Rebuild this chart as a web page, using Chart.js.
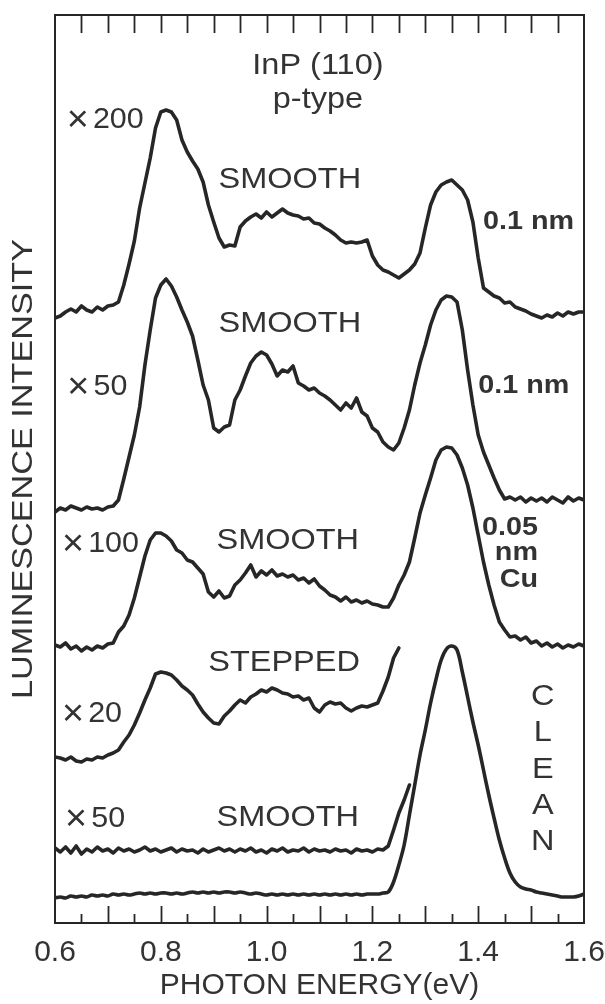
<!DOCTYPE html>
<html>
<head>
<meta charset="utf-8">
<script src="https://cdn.jsdelivr.net/npm/chart.js@4.4.1/dist/chart.umd.min.js"></script>
<style>
html,body{margin:0;padding:0;background:#ffffff;}
canvas{display:block;}
</style>
</head>
<body>
<canvas id="c" width="605" height="1004"></canvas>
<script>
// Photon energy grid (eV)
const energy = [
 0.60,0.61,0.62,0.63,0.64,0.65,0.66,0.67,0.68,0.69,
 0.70,0.71,0.72,0.73,0.74,0.75,0.76,0.77,0.78,0.79,
 0.80,0.81,0.82,0.83,0.84,0.85,0.86,0.87,0.88,0.89,
 0.90,0.91,0.92,0.93,0.94,0.95,0.96,0.97,0.98,0.99,
 1.00,1.01,1.02,1.03,1.04,1.05,1.06,1.07,1.08,1.09,
 1.10,1.11,1.12,1.13,1.14,1.15,1.16,1.17,1.18,1.19,
 1.20,1.21,1.22,1.23,1.24,1.25,1.26,1.27,1.28,1.29,
 1.30,1.31,1.32,1.33,1.34,1.35,1.36,1.37,1.38,1.39,
 1.40,1.41,1.42,1.43,1.44,1.45,1.46,1.47,1.48,1.49,
 1.50,1.51,1.52,1.53,1.54,1.55,1.56,1.57,1.58,1.59,
 1.60
];

// Luminescence intensity (arbitrary units, curves offset vertically as in the figure)
const smoothX200 = [
 60.5,60.7,61.1,61.4,61.1,61.7,61.3,61.1,61.6,61.3,
 61.7,61.8,62.1,63.8,65.9,68.2,71.5,74.0,76.5,79.5,
 81.1,81.3,81.1,80.3,78.3,77.1,76.2,75.4,74.1,71.8,
 70.1,68.5,67.6,67.8,67.7,69.6,70.2,70.6,70.9,70.5,
 71.1,70.6,71.0,71.4,71.0,70.8,70.7,70.4,70.5,70.0,
 69.9,69.5,69.2,68.8,68.3,68.0,68.1,68.0,68.1,68.3,
 66.7,65.8,65.3,65.1,64.8,64.5,64.9,65.3,65.9,67.0,
 69.5,71.8,73.1,73.8,74.1,74.3,73.8,73.3,72.3,70.1,
 66.5,63.5,63.1,62.7,62.5,62.0,62.1,61.6,61.4,61.2,
 60.9,60.7,60.5,60.8,60.6,61.0,60.7,61.1,60.9,61.1,
 61.1
];
const smoothX50 = [
 41.1,41.5,41.3,41.7,41.5,41.3,41.6,41.4,41.5,41.3,
 41.6,41.7,42.3,44.4,46.6,48.8,51.6,55.8,59.3,62.5,
 63.8,64.4,63.7,62.6,61.3,60.1,58.7,56.3,53.8,52.3,
 49.5,49.1,49.6,49.8,52.3,53.3,54.7,56.0,56.7,57.1,
 56.8,55.9,54.7,55.3,55.1,55.7,54.0,53.7,53.3,53.5,
 53.0,52.7,52.3,51.8,51.3,52.0,51.5,52.5,51.1,50.7,
 49.5,49.1,48.1,47.6,47.3,48.0,49.5,51.3,53.8,56.0,
 57.8,59.8,61.3,62.3,62.7,62.6,62.1,59.3,55.3,51.8,
 48.8,47.1,45.8,44.5,43.3,42.4,42.6,42.3,42.6,42.1,
 42.5,42.2,42.5,42.1,42.6,42.3,42.0,42.6,42.2,42.5,
 42.3
];
const smoothX100Cu = [
 27.8,27.6,28.0,27.4,27.7,27.2,27.6,27.3,27.7,27.5,
 27.9,28.0,29.1,29.7,30.8,32.5,34.6,36.7,38.3,39.0,
 39.0,38.7,38.2,37.3,37.0,36.3,36.1,35.5,34.9,33.1,
 32.6,33.2,32.5,32.7,33.8,34.3,35.0,35.8,34.6,35.2,
 34.8,35.3,34.7,34.9,34.6,34.8,34.3,34.5,34.0,34.4,
 33.7,33.3,32.8,32.6,32.2,32.6,32.1,32.3,32.0,32.2,
 31.9,31.8,31.6,31.6,32.5,33.8,34.8,36.1,38.5,41.0,
 42.8,44.5,46.3,47.3,47.6,47.5,46.8,45.5,43.8,41.5,
 38.8,36.1,33.8,31.8,30.1,29.3,28.6,28.7,28.3,28.6,
 28.0,28.2,27.7,28.0,27.6,27.9,27.5,27.8,27.6,27.9,
 27.7
];
const steppedX20 = [
 16.6,16.5,16.3,16.6,16.2,16.1,16.4,16.3,16.6,16.5,
 16.8,17.0,17.3,18.1,18.8,19.8,21.0,22.3,23.5,24.9,
 25.1,25.0,24.8,24.3,23.7,23.3,22.8,21.9,21.1,20.5,
 20.0,19.9,20.7,21.2,21.8,22.3,22.0,22.6,22.9,23.3,
 23.1,23.5,23.3,23.0,22.9,22.6,22.7,22.3,22.5,21.5,
 21.1,21.8,22.1,21.9,22.0,21.5,21.2,21.5,21.7,21.6,
 21.8,22.0,23.2,24.6,26.5,27.5
];
const cleanSmoothX50 = [
 7.5,7.1,7.6,7.0,7.7,6.9,7.4,7.1,7.6,7.2,
 7.4,7.0,7.5,7.2,7.4,7.1,7.3,7.6,7.2,7.4,
 7.1,7.3,7.5,7.1,7.4,7.2,7.3,7.0,7.4,7.1,
 7.3,7.5,7.2,7.4,7.1,7.4,7.2,7.5,7.1,7.3,
 7.0,7.4,7.2,7.5,7.1,7.3,7.2,7.5,7.1,7.4,
 7.2,7.3,7.1,7.4,7.2,7.3,7.0,7.4,7.2,7.3,
 7.1,7.4,7.3,7.7,9.3,11.0,12.3,13.8
];
const cleanX1 = [
 2.5,2.6,2.5,2.7,2.6,2.7,2.6,2.8,2.7,2.8,
 2.7,2.9,2.8,2.9,2.8,2.9,3.0,2.9,3.0,2.9,
 3.0,3.0,2.9,3.0,2.9,3.0,3.1,3.0,3.1,3.0,
 3.1,3.0,3.1,3.1,3.0,3.1,3.0,2.9,3.0,2.9,
 2.8,2.9,2.8,2.9,2.8,2.9,2.8,2.9,2.8,2.9,
 2.8,2.9,2.8,2.9,2.8,2.9,2.8,2.9,2.8,2.9,
 2.9,2.9,3.0,3.1,4.1,5.8,7.8,10.8,13.8,16.8,
 19.3,22.0,24.3,26.3,27.4,27.7,27.3,25.1,22.6,20.1,
 17.8,15.3,12.8,10.5,8.3,6.5,5.0,4.1,3.6,3.4,
 3.3,3.1,3.0,2.9,2.8,2.7,2.6,2.6,2.6,2.7,
 2.9
];

const xTickValues = [0.6, 0.8, 1.0, 1.2, 1.4, 1.6];
const xTickLabels = ['0.6', '0.8', '1.0', '1.2', '1.4', '1.6'];

// Text annotations placed in data coordinates
const annotations = [
  {text:'InP (110)', e:1.097, v:85.7, align:'center'},
  {text:'p-type',    e:1.097, v:82.3, align:'center'},
  {text:'× 200',     e:0.622, v:80.3, align:'left'},
  {text:'SMOOTH',    e:1.044, v:74.3, align:'center'},
  {text:'0.1 nm',    e:1.409, v:70.1, align:'left', bold:true},
  {text:'SMOOTH',    e:1.044, v:59.9, align:'center'},
  {text:'× 50',      e:0.623, v:53.6, align:'left'},
  {text:'0.1 nm',    e:1.400, v:53.7, align:'left', bold:true},
  {text:'× 100',     e:0.613, v:37.9, align:'left'},
  {text:'SMOOTH',    e:1.040, v:38.2, align:'center'},
  {text:'0.05',      e:1.513, v:39.5, align:'right', bold:true},
  {text:'nm',        e:1.513, v:37.0, align:'right', bold:true},
  {text:'Cu',        e:1.513, v:34.3, align:'right', bold:true},
  {text:'STEPPED',   e:1.033, v:26.0, align:'center'},
  {text:'× 20',      e:0.613, v:20.9, align:'left'},
  {text:'C',         e:1.522, v:22.6, align:'center'},
  {text:'L',         e:1.522, v:19.0, align:'center'},
  {text:'E',         e:1.522, v:15.3, align:'center'},
  {text:'A',         e:1.522, v:11.7, align:'center'},
  {text:'N',         e:1.522, v:8.1,  align:'center'},
  {text:'× 50',      e:0.619, v:10.4, align:'left'},
  {text:'SMOOTH',    e:1.040, v:10.5, align:'center'}
];

const INK = '#262626';
const TEXT = '#333333';
const FONT = '"Liberation Sans", Arial, Helvetica, sans-serif';

function toPoints(ys) {
  return ys.map((y, i) => ({x: energy[i], y: y}));
}

function drawText(ctx, text, px, py, o) {
  ctx.save();
  ctx.fillStyle = TEXT;
  ctx.textBaseline = 'middle';
  ctx.translate(px, py);
  if (o.rotate) ctx.rotate(o.rotate);
  ctx.scale(o.stretch || 1, 1);
  if (text.startsWith('× ')) {
    // larger multiplication sign, then the factor
    ctx.textAlign = 'left';
    ctx.font = '300 ' + Math.round(o.size * 1.25) + 'px ' + FONT;
    ctx.fillText('×', 0, 1);
    const w = ctx.measureText('×').width;
    ctx.font = o.size + 'px ' + FONT;
    ctx.fillText(text.slice(2), w + 4, 0);
  } else {
    ctx.font = (o.bold ? 'bold ' : '') + o.size + 'px ' + FONT;
    ctx.textAlign = o.align || 'left';
    ctx.fillText(text, 0, 0);
  }
  ctx.restore();
}

const framePlugin = {
  id: 'frameTicks',
  afterDatasetsDraw(chart) {
    const {ctx, chartArea: a, scales: {x}} = chart;
    ctx.save();
    ctx.strokeStyle = INK;
    ctx.lineWidth = 2;
    ctx.strokeRect(a.left, a.top, a.right - a.left, a.bottom - a.top);
    ctx.lineWidth = 1.8;
    const minor = [];
    for (let i = 1; i < 20; i++) minor.push(+(0.6 + i * 0.05).toFixed(2));
    minor.forEach((e, i) => {
      const px = Math.round(x.getPixelForValue(e)) + 0.5;
      ctx.beginPath(); ctx.moveTo(px, a.top); ctx.lineTo(px, a.top + 18); ctx.stroke();
      const len = (i % 2 === 1) ? 17 : 9;
      ctx.beginPath(); ctx.moveTo(px, a.bottom); ctx.lineTo(px, a.bottom - len); ctx.stroke();
    });
    ctx.restore();
  }
};

const textPlugin = {
  id: 'figText',
  afterDraw(chart) {
    const {ctx, scales: {x, y}, chartArea: a} = chart;
    annotations.forEach(t => {
      const isFactor = t.text.startsWith('× ');
      drawText(ctx, t.text, x.getPixelForValue(t.e), y.getPixelForValue(t.v), {
        size: t.bold ? 25 : 29,
        bold: !!t.bold,
        align: t.align,
        stretch: t.bold ? 1.15 : (isFactor ? 1.05 : 1.12)
      });
    });
    // y-axis title
    drawText(ctx, 'LUMINESCENCE INTENSITY', 24, (a.top + a.bottom) / 2, {
      size: 29, align: 'center', rotate: -Math.PI / 2, stretch: 1.18
    });
  }
};

const ds = (label, ys, tension) => ({
  label: label,
  data: toPoints(ys),
  borderColor: INK,
  borderWidth: 3.6,
  pointRadius: 0,
  fill: false,
  tension: tension || 0,
  borderJoinStyle: 'round',
  borderCapStyle: 'round'
});

new Chart(document.getElementById('c'), {
  type: 'line',
  data: {
    datasets: [
      ds('×200 SMOOTH 0.1 nm', smoothX200),
      ds('×50 SMOOTH 0.1 nm', smoothX50),
      ds('×100 SMOOTH 0.05 nm Cu', smoothX100Cu),
      ds('×20 STEPPED clean', steppedX20),
      ds('×50 SMOOTH clean', cleanSmoothX50),
      ds('CLEAN', cleanX1, 0.35)
    ]
  },
  options: {
    responsive: false,
    devicePixelRatio: 1,
    animation: false,
    layout: {padding: {left: 55, right: 21, top: 15, bottom: 0}},
    plugins: {legend: {display: false}, tooltip: {enabled: false}},
    scales: {
      x: {
        type: 'linear',
        min: 0.6, max: 1.6,
        grid: {display: false, drawTicks: false},
        border: {display: false},
        afterBuildTicks: s => { s.ticks = xTickValues.map(v => ({value: v})); },
        afterFit: s => { s.height = 81; s.paddingLeft = 0; s.paddingRight = 0; },
        ticks: {
          color: TEXT,
          font: {family: FONT, size: 30},
          padding: 12,
          maxRotation: 0,
          callback: (v) => { const i = xTickValues.findIndex(t => Math.abs(t - v) < 1e-6); return i >= 0 ? xTickLabels[i] : ''; }
        },
        title: {
          display: true,
          text: 'PHOTON ENERGY(eV)',
          color: TEXT,
          font: {family: FONT, size: 30},
          padding: {top: 0, bottom: 0}
        }
      },
      y: {
        type: 'linear',
        min: 0, max: 90.8,
        display: false
      }
    }
  },
  plugins: [framePlugin, textPlugin]
});
</script>
</body>
</html>
